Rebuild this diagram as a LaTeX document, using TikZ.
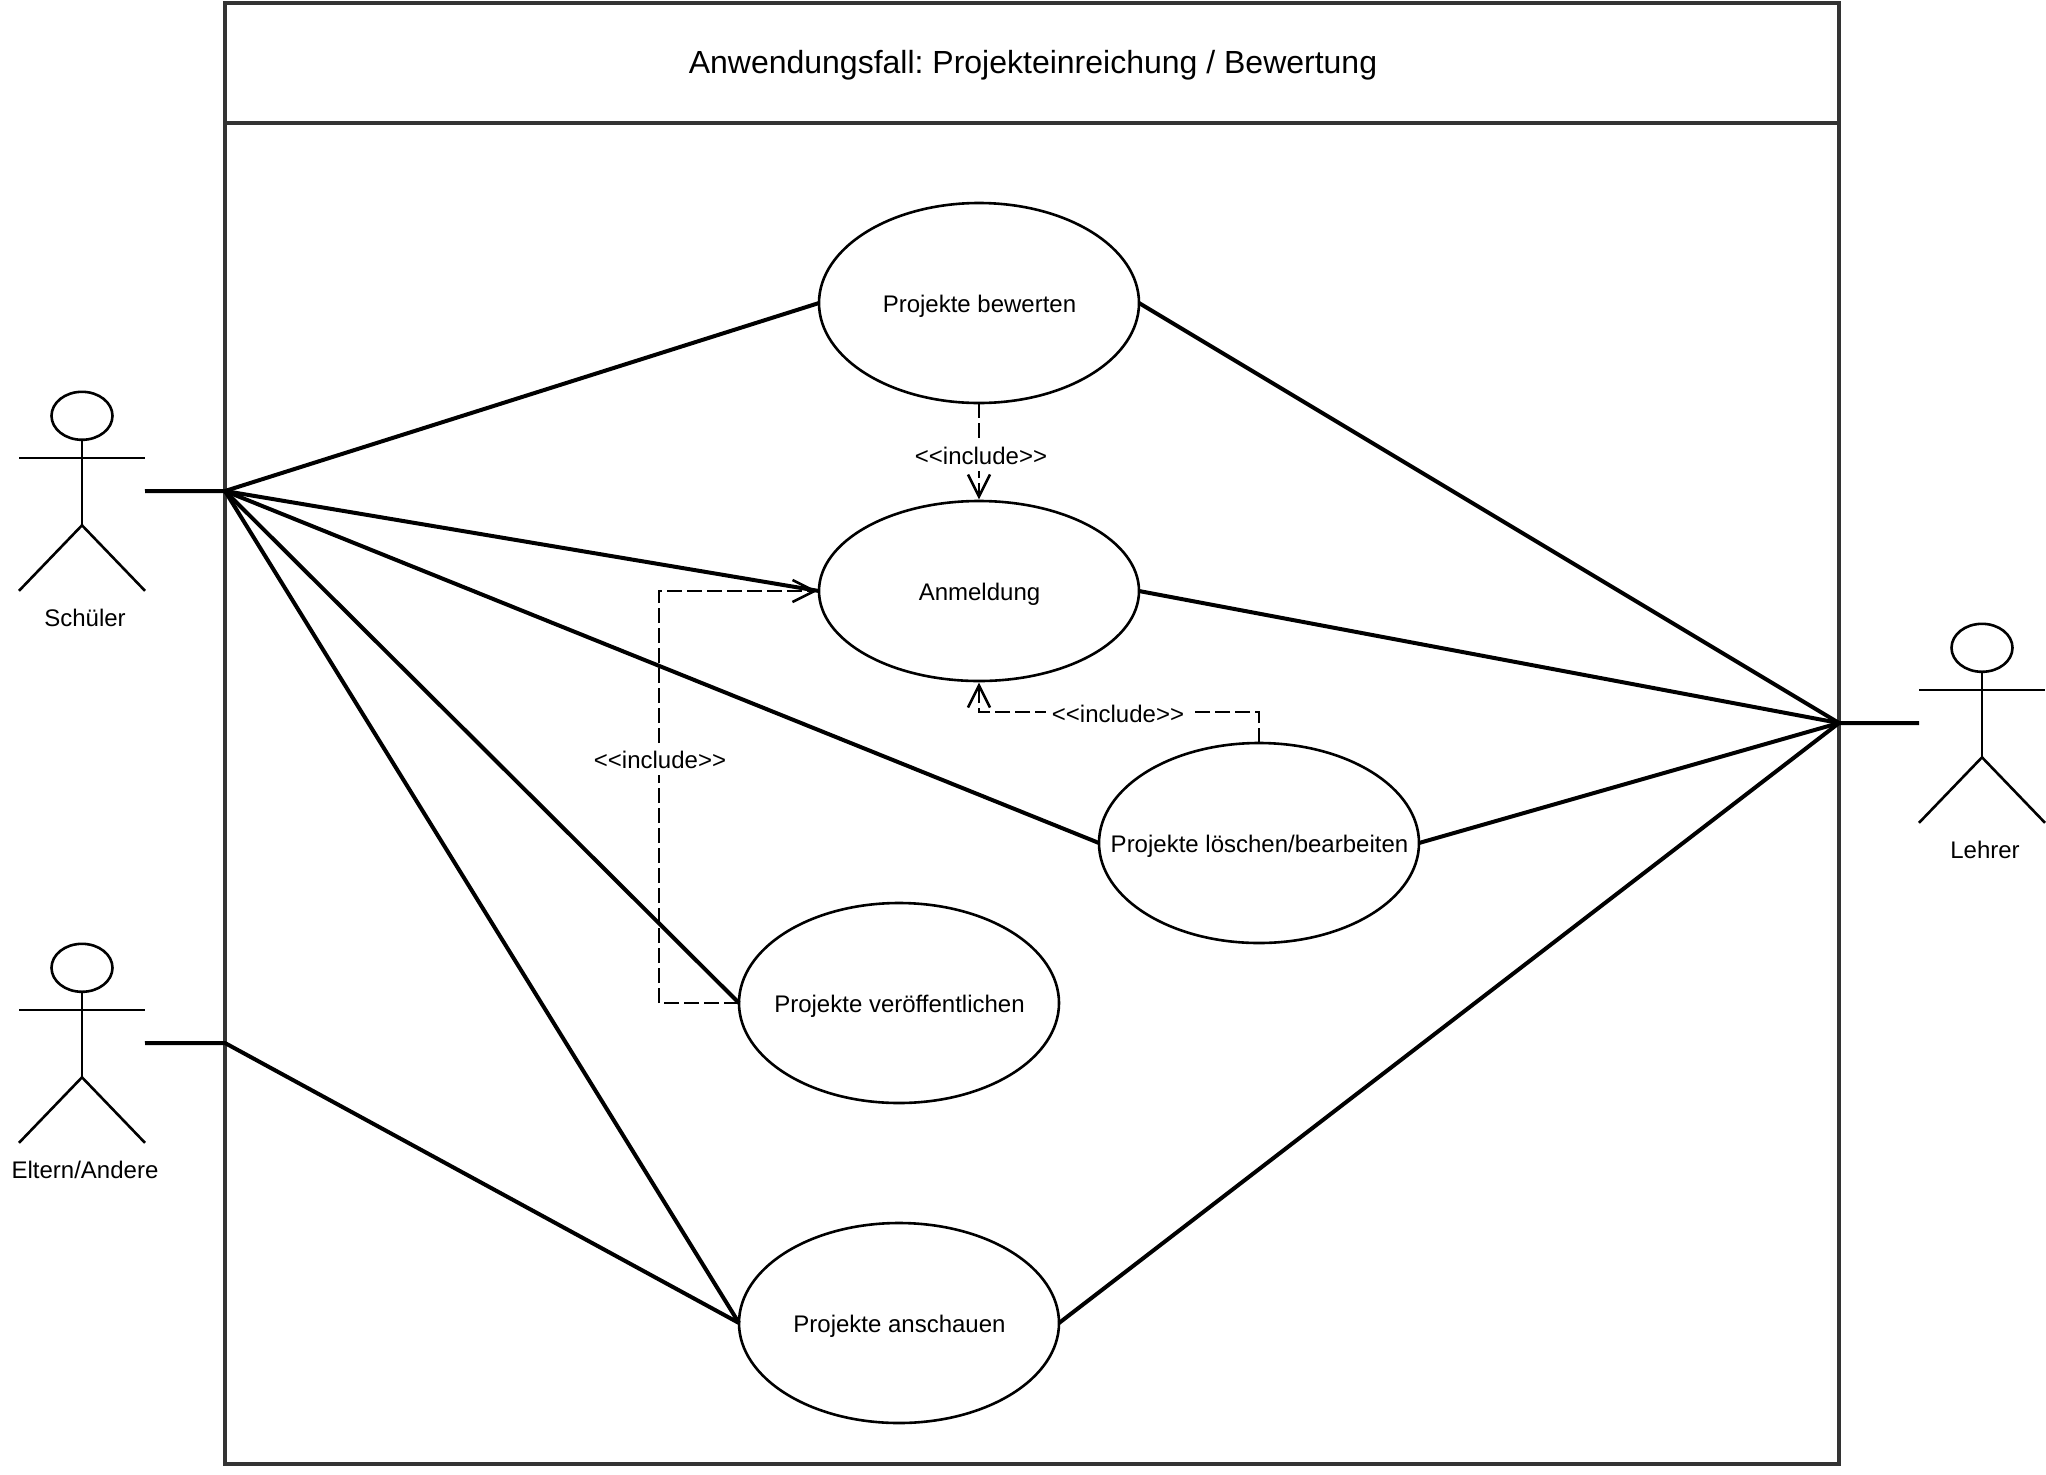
\documentclass[tikz,border=0pt]{standalone}
\usepackage{fontspec}
\setmainfont{Liberation Sans}
\frenchspacing
\usetikzlibrary{arrows.meta,shapes.geometric}
\definecolor{framegray}{HTML}{333333}
\tikzset{
  x=0.5pt,y=-0.5pt,
  frameline/.style={draw=framegray,line width=2pt},
  usecase/.style={draw=black,line width=1.3pt,fill=white,ellipse,minimum width=160pt,minimum height=100pt,inner sep=0pt,outer sep=0pt,font=\fontsize{12}{14}\selectfont},
  assoc/.style={draw=black,line width=2pt,line join=miter},
  incl/.style={draw=black,line width=1.3pt,dash pattern=on 7.5pt off 2.5pt,shorten >=0.8pt,-{Straight Barb[length=11pt,width=11pt,line width=1.3pt]}},
  limb/.style={draw=black,line width=1.3pt},
  inclabel/.style={fill=white,inner xsep=3pt,inner ysep=0pt,minimum height=15pt,font=\fontsize{12}{14}\selectfont},
  actorlabel/.style={inner sep=0pt,font=\fontsize{12}{14}\selectfont},
}
\newcommand{\uctext}[1]{\hspace{0.5pt}\raisebox{-4.5pt}[0pt][0pt]{\makebox[0pt]{#1}}}
\newcommand{\incltext}{<{}<include>{}>}
\newcommand{\stickman}[3]{%
  \draw[limb] (#2,#3) ellipse (30.5 and 24);
  \draw[limb] (#2,#3+25) -- (#2,#3+109.5);
  \draw[limb] (#2-63,#3+42) -- (#2+63,#3+42);
  \draw[limb] (#2-63,#3+175) -- (#2,#3+109.5) -- (#2+63,#3+175);
  \coordinate (#1R) at (#2+63,#3+75.4);
  \coordinate (#1L) at (#2-63,#3+75.4);
}
\begin{document}
\begin{tikzpicture}
\useasboundingbox (0,0) rectangle (2046,1474);
% frame
\path[frameline] (225,3) rectangle (1839,1464);
\path[frameline] (225,123) -- (1839,123);
\node[font=\fontsize{16}{19}\selectfont,inner sep=0pt] (title) at (1033,65) {Anwendungsfall: Projekteinreichung / Bewertung};
% junctions on the frame
\coordinate (sj) at (225,491);
\coordinate (ej) at (225,1043);
\coordinate (lj) at (1839,723);
% use cases
\node[usecase,minimum height=90pt] (anm) at (979,591) {\uctext{Anmeldung}};
\node[usecase] (bew) at (979,303) {\uctext{Projekte bewerten}};
\node[usecase] (loe) at (1259,843) {\uctext{Projekte löschen/bearbeiten}};
\node[usecase] (ver) at (899,1003) {\uctext{Projekte veröffentlichen}};
\node[usecase] (ans) at (899,1323) {\uctext{Projekte anschauen}};
% actors
\stickman{sa}{82}{415.8}
\stickman{ea}{82}{967.8}
\stickman{la}{1982}{647.8}
\node[actorlabel] (sl) at (85,618) {Schüler};
\node[actorlabel] (el) at (85,1170) {Eltern/Andere};
\node[actorlabel] (ll) at (1985,850) {Lehrer};
% associations
\draw[assoc] (saR) -- (sj) -- (bew.west);
\draw[assoc] (sj) -- (anm.west);
\draw[assoc] (sj) -- (loe.west);
\draw[assoc] (sj) -- (ver.west);
\draw[assoc] (sj) -- (ans.west);
\draw[assoc] (eaR) -- (ej) -- (ans.west);
\draw[assoc] (laL) -- (lj) -- (bew.east);
\draw[assoc] (lj) -- (anm.east);
\draw[assoc] (lj) -- (loe.east);
\draw[assoc] (lj) -- (ans.east);
% includes
\draw[incl] (bew.south) -- (anm.north);
\node[inclabel] (i1) at (981,456) {\incltext};
\draw[incl] (loe.north) -- ++(0,-31) -| (anm.south);
\node[inclabel] (i2) at (1118,714) {\incltext};
\draw[incl] (ver.west) -- ++(-80,0) |- (anm.west);
\node[inclabel] (i3) at (660,760) {\incltext};
\end{tikzpicture}
\end{document}
